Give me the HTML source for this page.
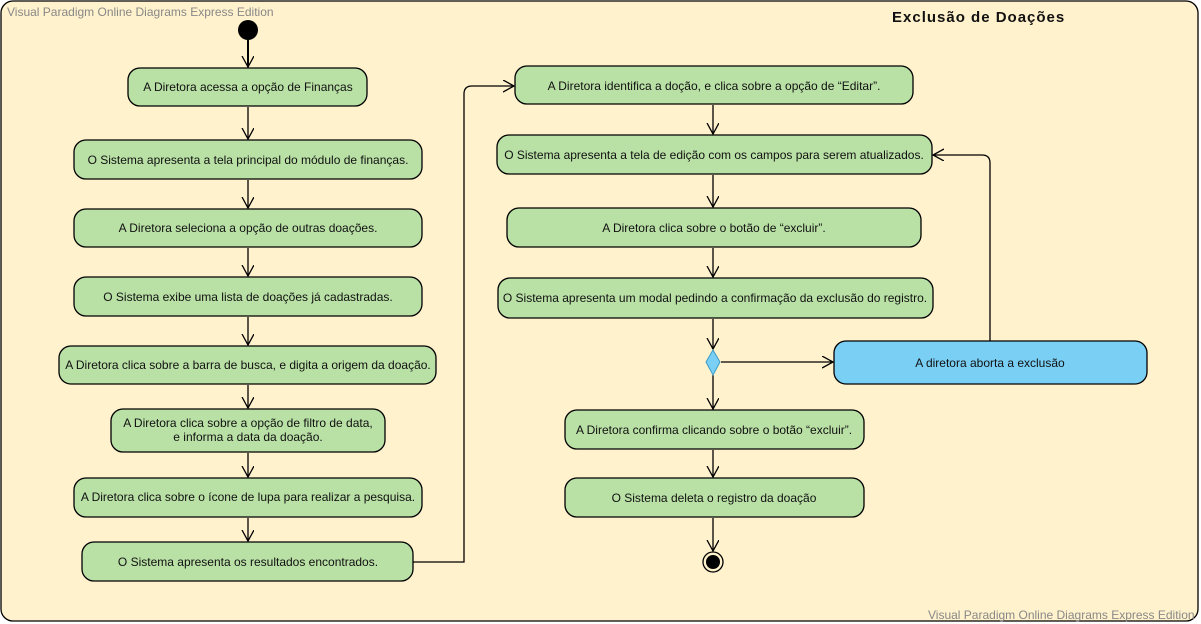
<!DOCTYPE html>
<html><head><meta charset="utf-8"><style>
html,body{margin:0;padding:0;background:#fff;}
svg{display:block;}
text{font-family:"Liberation Sans",Arial,sans-serif;font-size:12px;fill:#111;}
</style></head><body>
<svg width="1201" height="624" viewBox="0 0 1201 624" xmlns="http://www.w3.org/2000/svg">
<defs>
<marker id="a" markerWidth="14" markerHeight="14" refX="11" refY="6" orient="auto" markerUnits="userSpaceOnUse">
<path d="M0,0 L11,6 L0,12" fill="none" stroke="#000" stroke-width="1.3"/>
</marker>
</defs>
<rect x="1" y="1" width="1197" height="620" rx="12" fill="#fff2cc" stroke="#000" stroke-width="1.3"/>
<text x="7" y="16" style="fill:#888">Visual Paradigm Online Diagrams Express Edition</text>
<text x="928" y="619" style="fill:#888">Visual Paradigm Online Diagrams Express Edition</text>
<text x="892" y="22" style="font-size:15px;font-weight:bold;letter-spacing:1px">Exclusão de Doações</text>

<circle cx="248" cy="30" r="10" fill="#000"/>
<g stroke="#000" stroke-width="1.3" fill="none">
<line x1="248" y1="40" x2="248" y2="67" marker-end="url(#a)" stroke-width="2"/>
<line x1="248" y1="107" x2="248" y2="139" marker-end="url(#a)"/>
<line x1="248" y1="180" x2="248" y2="208" marker-end="url(#a)"/>
<line x1="248" y1="248" x2="248" y2="276" marker-end="url(#a)"/>
<line x1="248" y1="317" x2="248" y2="345" marker-end="url(#a)"/>
<line x1="248" y1="385" x2="248" y2="408" marker-end="url(#a)"/>
<line x1="248" y1="453" x2="248" y2="477" marker-end="url(#a)"/>
<line x1="248" y1="518" x2="248" y2="541" marker-end="url(#a)"/>
<path d="M413,562 L464,562 L464,94 Q464,86 472,86 L514,86" marker-end="url(#a)"/>
<line x1="713" y1="105" x2="713" y2="134" marker-end="url(#a)"/>
<line x1="713" y1="175" x2="713" y2="207" marker-end="url(#a)"/>
<line x1="713" y1="248" x2="713" y2="277" marker-end="url(#a)"/>
<line x1="713" y1="319" x2="713" y2="349" marker-end="url(#a)"/>
<line x1="721" y1="362" x2="833" y2="362" marker-end="url(#a)"/>
<line x1="713" y1="375" x2="713" y2="409" marker-end="url(#a)"/>
<line x1="713" y1="450" x2="713" y2="477" marker-end="url(#a)"/>
<line x1="713" y1="518" x2="713" y2="551" marker-end="url(#a)"/>
<path d="M990,341 L990,163 Q990,155 982,155 L933,155" marker-end="url(#a)"/>
</g>

<g stroke="#000" stroke-width="1.3" fill="#b9e0a5">
<rect x="128" y="68" width="239" height="38" rx="12"/>
<rect x="74" y="140" width="348" height="39" rx="12"/>
<rect x="74" y="209" width="348" height="38" rx="12"/>
<rect x="74" y="277" width="348" height="39" rx="12"/>
<rect x="59" y="346" width="377" height="38" rx="12"/>
<rect x="111" y="409" width="274" height="43" rx="12"/>
<rect x="74" y="478" width="348" height="39" rx="12"/>
<rect x="82" y="542" width="331" height="39" rx="12"/>
<rect x="515" y="66" width="398" height="38" rx="12"/>
<rect x="497" y="135" width="435" height="39" rx="12"/>
<rect x="507" y="208" width="414" height="39" rx="12"/>
<rect x="498" y="278" width="435" height="40" rx="12"/>
<rect x="565" y="410" width="299" height="39" rx="12"/>
<rect x="565" y="478" width="299" height="39" rx="12"/>
<rect x="834" y="341" width="313" height="43" rx="12" fill="#7acff5"/>
</g>
<path d="M713,350 L720,362 L713,375 L706,362 Z" fill="#7acff5" stroke="#3a9bc8" stroke-width="1"/>
<circle cx="713" cy="562" r="10" fill="#fff2cc" stroke="#000" stroke-width="1.3"/>
<circle cx="713" cy="562" r="7" fill="#000"/>

<g text-anchor="middle">
<text x="248" y="91">A Diretora acessa a opção de Finanças</text>
<text x="248" y="164">O Sistema apresenta a tela principal do módulo de finanças.</text>
<text x="248" y="232">A Diretora seleciona a opção de outras doações.</text>
<text x="248" y="301">O Sistema exibe uma lista de doações já cadastradas.</text>
<text x="248" y="369">A Diretora clica sobre a barra de busca, e digita a origem da doação.</text>
<text x="248" y="427">A Diretora clica sobre a opção de filtro de data,</text>
<text x="248" y="441">e informa a data da doação.</text>
<text x="248" y="501">A Diretora clica sobre o ícone de lupa para realizar a pesquisa.</text>
<text x="248" y="566">O Sistema apresenta os resultados encontrados.</text>
<text x="714" y="90">A Diretora identifica a doção, e clica sobre a opção de “Editar”.</text>
<text x="714" y="159">O Sistema apresenta a tela de edição com os campos para serem atualizados.</text>
<text x="714" y="232">A Diretora clica sobre o botão de “excluir”.</text>
<text x="715" y="302">O Sistema apresenta um modal pedindo a confirmação da exclusão do registro.</text>
<text x="714" y="434">A Diretora confirma clicando sobre o botão “excluir”.</text>
<text x="714" y="502">O Sistema deleta o registro da doação</text>
<text x="990" y="367">A diretora aborta a exclusão</text>
</g>
</svg>
</body></html>
